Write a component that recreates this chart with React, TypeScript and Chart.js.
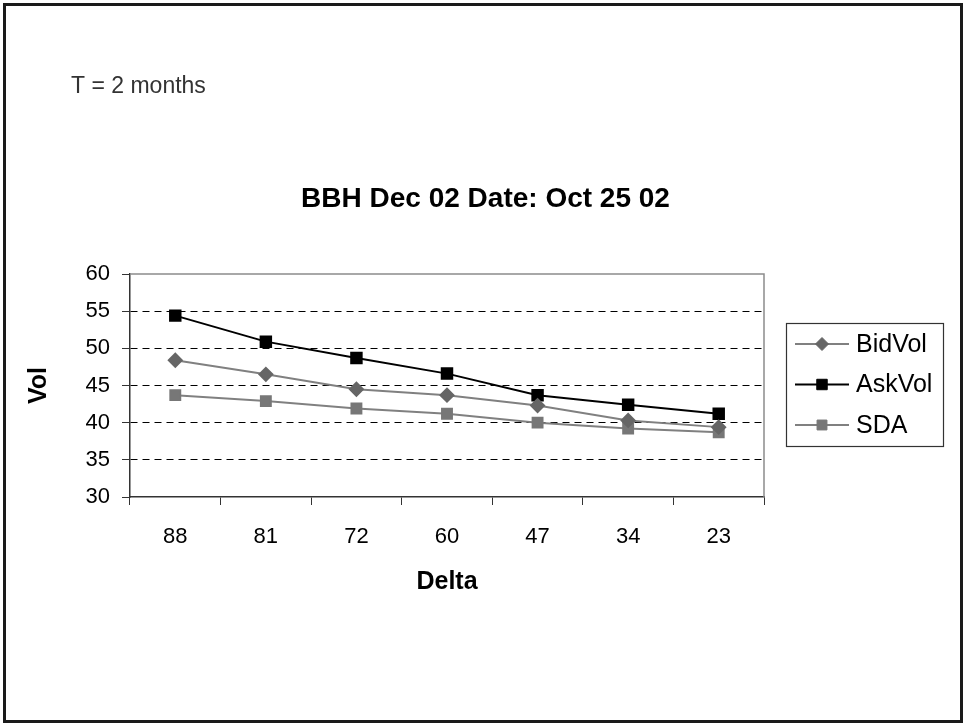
import React, { useEffect, useRef } from "react";
import { Chart, registerables } from "chart.js";
import { drawPoint } from "chart.js/helpers";

Chart.register(...registerables);

// Delta buckets along the x axis
const deltas = ["88", "81", "72", "60", "47", "34", "23"];
// Implied volatility series
const bidVol = [48.4, 46.5, 44.5, 43.7, 42.3, 40.3, 39.4];
const askVol = [54.4, 50.9, 48.7, 46.6, 43.7, 42.4, 41.2];
const sda = [43.7, 42.9, 41.9, 41.2, 40.0, 39.2, 38.7];
// Vol axis ticks
const volTicks = [30, 35, 40, 45, 50, 55, 60];

const chartTitle = "BBH Dec 02 Date: Oct 25 02";
const noteText = "T = 2 months";

const FONT = "'Liberation Sans', Arial, Helvetica, sans-serif";

const decorations = {
  id: "decorations",
  beforeDraw(chart: any) {
    const { ctx, width, height } = chart;
    ctx.save();
    ctx.fillStyle = "#ffffff";
    ctx.fillRect(0, 0, width, height);
    // outer frame
    ctx.strokeStyle = "#1a1a1a";
    ctx.lineWidth = 3;
    ctx.strokeRect(4.5, 4.5, width - 8, height - 7);
    // note text
    ctx.fillStyle = "#333333";
    ctx.font = `23px ${FONT}`;
    ctx.textAlign = "left";
    ctx.textBaseline = "alphabetic";
    ctx.fillText(noteText, 71, 93);
    // chart title
    ctx.fillStyle = "#000000";
    ctx.font = `bold 28px ${FONT}`;
    ctx.textAlign = "center";
    ctx.fillText(chartTitle, 485.5, 207);
    ctx.restore();
  },
  beforeDatasetsDraw(chart: any) {
    const { ctx, chartArea } = chart;
    ctx.save();
    ctx.strokeStyle = "#8c8c8c";
    ctx.lineWidth = 1.5;
    ctx.beginPath();
    ctx.moveTo(chartArea.left, chartArea.top);
    ctx.lineTo(chartArea.right, chartArea.top);
    ctx.lineTo(chartArea.right, chartArea.bottom);
    ctx.stroke();
    ctx.restore();
  },
  afterDraw(chart: any) {
    const { ctx, chartArea } = chart;
    const datasets = chart.data.datasets;
    const left = chartArea.right + 22;
    const boxW = 157;
    const rowH = 40.5;
    const boxH = 123;
    const top = Math.round((chartArea.top + chartArea.bottom) / 2 - boxH / 2) - 1;
    ctx.save();
    ctx.strokeStyle = "#333333";
    ctx.lineWidth = 1.2;
    ctx.strokeRect(left + 0.5, top + 0.5, boxW, boxH);
    datasets.forEach((ds: any, i: number) => {
      const y = top + 21 + i * rowH;
      ctx.strokeStyle = ds.borderColor;
      ctx.lineWidth = ds.borderWidth;
      ctx.beginPath();
      ctx.moveTo(left + 9, y);
      ctx.lineTo(left + 63, y);
      ctx.stroke();
      ctx.fillStyle = ds.pointBackgroundColor;
      ctx.strokeStyle = ds.pointBorderColor;
      ctx.lineWidth = 1;
      drawPoint(ctx, { pointStyle: ds.pointStyle, radius: ds.pointRadius, rotation: 0, borderWidth: 1 }, left + 36, y);
      ctx.fillStyle = "#000000";
      ctx.font = `25px ${FONT}`;
      ctx.textAlign = "left";
      ctx.textBaseline = "middle";
      ctx.fillText(ds.label, left + 70, y + 1);
    });
    ctx.restore();
  },
};

export default function App() {
  const canvasRef = useRef<HTMLCanvasElement | null>(null);

  useEffect(() => {
    const canvas = canvasRef.current;
    if (!canvas) return;
    const chart = new Chart(canvas, {
      type: "line",
      data: {
        labels: deltas,
        datasets: [
          {
            label: "BidVol",
            data: bidVol,
            borderColor: "#808080",
            backgroundColor: "#666666",
            pointBackgroundColor: "#666666",
            pointBorderColor: "#666666",
            pointStyle: "rectRot",
            pointRadius: 6.5,
            borderWidth: 2,
            tension: 0,
          },
          {
            label: "AskVol",
            data: askVol,
            borderColor: "#000000",
            backgroundColor: "#000000",
            pointBackgroundColor: "#000000",
            pointBorderColor: "#000000",
            pointStyle: "rect",
            pointRadius: 7.4,
            borderWidth: 2,
            tension: 0,
          },
          {
            label: "SDA",
            data: sda,
            borderColor: "#808080",
            backgroundColor: "#777777",
            pointBackgroundColor: "#777777",
            pointBorderColor: "#777777",
            pointStyle: "rect",
            pointRadius: 7,
            borderWidth: 2,
            tension: 0,
          },
        ],
      },
      plugins: [decorations],
      options: {
        responsive: false,
        animation: false,
        events: [],
        layout: { padding: { left: 0, top: 274, right: 201, bottom: 127 } },
        plugins: {
          legend: { display: false },
          title: { display: false },
          tooltip: { enabled: false },
        },
        scales: {
          x: {
            type: "category",
            offset: true,
            grid: {
              offset: true,
              drawOnChartArea: false,
              drawTicks: true,
              tickLength: 8,
              tickColor: "#333333",
              tickWidth: 1,
            },
            border: { display: true, color: "#333333", width: 1.5 },
            ticks: {
              color: "#000000",
              font: { family: FONT, size: 22 },
              padding: 19,
              maxRotation: 0,
              autoSkip: false,
            },
            title: {
              display: true,
              text: "Delta",
              color: "#000000",
              font: { family: FONT, size: 25, weight: "bold" },
              padding: { top: 0, bottom: 0 },
            },
            afterFit: (s: any) => {
              s.height = 100;
            },
          },
          y: {
            min: 30,
            max: 60,
            afterBuildTicks: (s: any) => {
              s.ticks = volTicks.map((v) => ({ value: v }));
            },
            grid: {
              color: (c: any) =>
                c.tick && (c.tick.value === 30 || c.tick.value === 60) ? "rgba(0,0,0,0)" : "#000000",
              lineWidth: 1,
              drawTicks: true,
              tickLength: 8,
              tickColor: "#333333",
              tickWidth: 1,
              tickBorderDash: [],
            },
            border: {
              display: true,
              color: "#333333",
              width: 1.5,
              dash: (c: any) => (c.type === "tick" ? [7, 5] : []),
            },
            ticks: {
              color: "#000000",
              font: { family: FONT, size: 22 },
              padding: 12,
            },
            title: {
              display: true,
              text: "Vol",
              color: "#000000",
              font: { family: FONT, size: 25, weight: "bold" },
              padding: { top: 24, bottom: 0 },
            },
            afterFit: (s: any) => {
              s.width = 130;
            },
          },
        },
      } as any,
    });
    return () => chart.destroy();
  }, []);

  return (
    <div style={{ position: "absolute", left: 0, top: 0, width: 965, height: 724, background: "#fff" }}>
      <canvas ref={canvasRef} width={965} height={724} style={{ display: "block" }} />
    </div>
  );
}
